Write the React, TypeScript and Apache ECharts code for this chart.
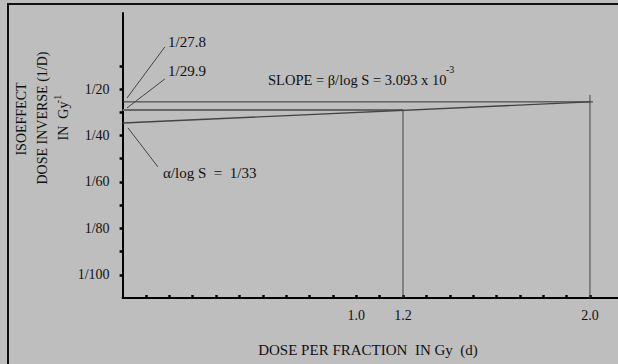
import React, { useEffect, useRef } from "react";
import * as echarts from "echarts";

// ---- data ----
const xTicks = [0.1, 0.2, 0.3, 0.4, 0.5, 0.6, 0.7, 0.8, 0.9, 1.0, 1.1, 1.2, 1.3, 1.4, 1.5, 1.6, 1.7, 1.8, 1.9, 2.0];
const xLabelValues = [1.0, 1.2, 2.0];
const yTicks = [1, 2, 3, 4, 5, 6, 7, 8, 9, 10];
const yLabelValues = [1, 3, 5, 7, 9];
const yLabelTexts = ["1/100", "1/80", "1/60", "1/40", "1/20"];

const line278 = [[0, 8.45], [2.013, 8.45]];
const line299 = [[0, 8.1], [1.2, 8.1]];
const slopeLine = [[0, 7.54], [2.0, 8.45]];
const drop12 = [[1.2, 8.1], [1.2, 0]];
const drop20 = [[2.0, 8.75], [2.0, 0]];
const leader278 = [[0.019, 8.62], [0.181, 10.82]];
const leader299 = [[0.019, 8.19], [0.181, 9.44]];
const leader33 = [[0.023, 7.33], [0.151, 5.65]];

const FONT = "'Liberation Serif', 'Times New Roman', 'DejaVu Serif', serif";
const INK = "#111";

export default function App() {
  const ref = useRef<HTMLDivElement>(null);
  useEffect(() => {
    if (!ref.current) return;
    const chart = echarts.init(ref.current, null, { renderer: "svg" });
    const seg = (data: number[][], color: string, width: number) => ({
      type: "line",
      data,
      symbol: "none",
      silent: true,
      lineStyle: { color, width },
    });
    const txt = (text: string, x: number, y: number, size = 15, align = "left", rotation = 0) => ({
      type: "text",
      x,
      y,
      rotation,
      silent: true,
      style: { text, fill: INK, fontSize: size, fontFamily: FONT, align, verticalAlign: "middle" },
    });
    chart.setOption({
      animation: false,
      backgroundColor: "#bebebe",
      textStyle: { fontFamily: FONT },
      grid: { left: 122.6, top: 13, right: 0, bottom: 66, containLabel: false },
      xAxis: {
        type: "value",
        min: 0,
        max: 2.12,
        splitLine: { show: false },
        axisLine: { lineStyle: { color: "#000", width: 2 } },
        axisTick: { show: true, inside: true, length: 3, customValues: xTicks, lineStyle: { color: "#000", width: 2.5 } },
        axisLabel: {
          customValues: xLabelValues,
          formatter: (v: number) => v.toFixed(1),
          color: INK,
          fontSize: 14,
          fontFamily: FONT,
          margin: 10,
        },
      },
      yAxis: {
        type: "value",
        min: 0,
        max: 12.28,
        splitLine: { show: false },
        axisLine: { show: true, lineStyle: { color: "#000", width: 2 } },
        axisTick: { show: true, inside: false, length: 3, customValues: yTicks, lineStyle: { color: "#000", width: 2.5 } },
        axisLabel: {
          customValues: yLabelValues,
          formatter: (v: number) => yLabelTexts[yLabelValues.indexOf(Math.round(v))] ?? "",
          color: INK,
          fontSize: 14,
          fontFamily: FONT,
          margin: 13,
        },
      },
      series: [
        seg(line278, "#333", 1),
        seg(line299, "#666", 2),
        seg(slopeLine, "#444", 1.3),
        seg(drop12, "#444", 1),
        seg(drop20, "#444", 1),
        seg(leader278, "#444", 1),
        seg(leader299, "#444", 1),
        seg(leader33, "#444", 1),
      ],
      graphic: [
        {
          type: "rect",
          silent: true,
          shape: { x: 8, y: 4, width: 700, height: 500 },
          style: { fill: "none", stroke: "#111", lineWidth: 2 },
        },
        txt("1/27.8", 168, 42),
        txt("1/29.9", 168, 71),
        txt("α/log S  =  1/33", 163, 173),
        txt("SLOPE = β/log S = 3.093 x 10", 268, 80, 14.5),
        txt("-3", 446, 69, 10),
        txt("DOSE PER FRACTION  IN Gy  (d)", 368, 350, 15, "center"),
        txt("ISOEFFECT", 21, 119, 14, "center", Math.PI / 2),
        txt("DOSE INVERSE (1/D)", 42, 118, 14, "center", Math.PI / 2),
        txt("IN  Gy", 63, 121, 14, "center", Math.PI / 2),
        txt("-1", 57, 99, 10, "center", Math.PI / 2),
      ],
    });
    return () => chart.dispose();
  }, []);
  return <div ref={ref} style={{ position: "absolute", left: 0, top: 0, width: 618, height: 364 }} />;
}
